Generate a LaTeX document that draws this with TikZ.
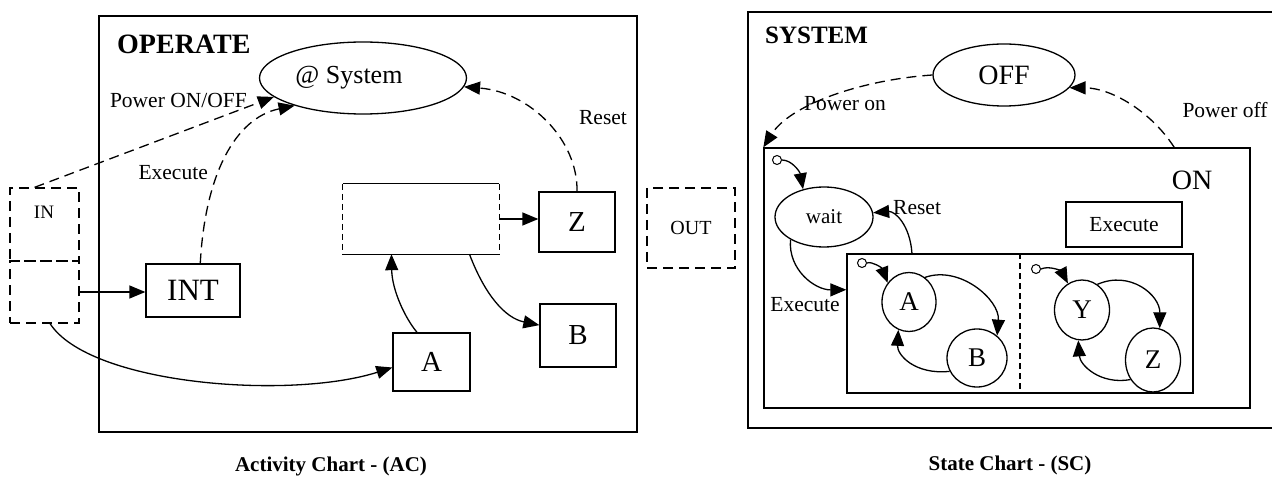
\documentclass[tikz,border=0pt]{standalone}
\usepackage{fontspec}
\setmainfont{Liberation Serif}
\usetikzlibrary{arrows.meta,shapes.geometric}
\newcommand\lblfont{\fontsize{21.5}{24}\selectfont}
\newcommand\letfont{\fontsize{29}{32}\selectfont}
\newcommand\ttlfont{\fontsize{28}{32}\selectfont\bfseries}
\newcommand\capfont{\fontsize{21}{24}\selectfont\bfseries}
\begin{document}
\begin{tikzpicture}[x=1pt,y=-1pt,
  box/.style={draw,line width=1.3pt,inner sep=0pt},
  dbox/.style={draw,line width=1.3pt,inner sep=0pt,dash pattern=on 10pt off 6pt},
  ell/.style={draw,ellipse,line width=1.3pt,inner sep=0pt},
  lbl/.style={inner sep=0pt,font=\lblfont},
  initc/.style={draw,circle,line width=1pt,minimum size=9pt,inner sep=0pt},
  arr/.style={line width=1.3pt,-{Triangle[length=16pt,width=13pt]}},
  dsh/.style={dash pattern=on 10pt off 6pt}]
\useasboundingbox (0,0) rectangle (1272,489);
\clip (0,0) rectangle (1272,489);

% ---------------- Activity chart ----------------
\node[box,line width=1.5pt,minimum width=538pt,minimum height=416pt] (operate) at (368,224) {};
\node[inner sep=0pt,font=\ttlfont,anchor=west] (optitle) at (117,44) {OPERATE};
\node[ell,minimum width=207pt,minimum height=72pt] (sys) at (363,78) {};
\node[inner sep=0pt,font=\fontsize{26}{30}\selectfont] (systxt) at (349,78) {@ System};

\node[dbox,minimum width=69pt,minimum height=73pt] (inTop) at (44.5,224.5) {};
\node[dbox,minimum width=69pt,minimum height=62pt] (inBot) at (44.5,292) {};
\node[inner sep=0pt,font=\fontsize{19}{22}\selectfont] (intxt) at (44,212) {IN};

\node[box,minimum width=94pt,minimum height=53pt,font=\fontsize{31}{34}\selectfont] (int) at (193,290.5) {INT};
\node[box,minimum width=77pt,minimum height=58pt,font=\letfont] (Abox) at (431.5,362) {A};
\node[box,minimum width=76pt,minimum height=63pt,font=\letfont] (Bbox) at (578,335.5) {B};
\node[box,minimum width=76pt,minimum height=60pt,font=\letfont] (Zbox) at (577,222) {Z};

\node[minimum width=156pt,minimum height=70pt,inner sep=0pt] (mid) at (421,219) {};
\draw[line width=1.3pt] (mid.north west) -- (mid.north east);
\draw[line width=1.3pt] (mid.south west) -- (mid.south east);
\draw[line width=1.3pt,dash pattern=on 6pt off 4pt] (mid.north west) -- (mid.south west);
\draw[line width=1.3pt,dash pattern=on 6pt off 4pt] (mid.north east) -- (mid.south east);

\draw[arr,dsh] (inTop.105) -- (sys.192);
\node[lbl,anchor=east] (lpow) at (247,100) {Power ON/OFF};
\draw[arr,dsh] (int.75) .. controls (205,175) and (235,118) .. (sys.202);
\node[lbl,anchor=east] (lexe) at (208,173) {Execute};
\draw[arr,dsh] (Zbox.north) .. controls (578,140) and (530,92) .. (sys.355);
\node[lbl] (lres) at (603,118) {Reset};

\draw[arr] (inBot.east) -- (inBot.east -| int.west);
\draw[arr] (inBot.-80) .. controls (90,385) and (290,400) .. (Abox.188);
\draw[arr] (Abox.116) .. controls (405,318) and (392,290) .. (mid.230);
\draw[arr] (mid.324.5) .. controls (485,295) and (505,318) .. (Bbox.165);
\draw[arr] (mid.east) -- (mid.east -| Zbox.west);

\node[inner sep=0pt,font=\capfont] (capac) at (331,466) {Activity Chart - (AC)};

% ---------------- OUT ----------------
\node[dbox,minimum width=88pt,minimum height=80pt,font=\fontsize{20}{23}\selectfont] (out) at (691,228) {OUT};

% ---------------- State chart ----------------
\node[box,line width=1.5pt,minimum width=542pt,minimum height=416pt] (system) at (1019,220) {};
\node[inner sep=0pt,font=\fontsize{25}{28}\selectfont\bfseries,anchor=west] (systitle) at (765,35) {SYSTEM};
\node[ell,minimum width=142pt,minimum height=62pt,font=\fontsize{28}{32}\selectfont] (off) at (1004,75) {OFF};
\node[box,minimum width=486pt,minimum height=260pt] (on) at (1007,278) {};
\node[inner sep=0pt,font=\fontsize{28}{32}\selectfont] (ontxt) at (1192,180) {ON};
\node[box,minimum width=116pt,minimum height=45pt,font=\lblfont] (exebox) at (1124,224.5) {Execute};

\draw[arr,dsh] (off.west) .. controls (860,80) and (790,105) .. (on.north west);
\node[lbl] (lpon) at (845,104) {Power on};
\draw[arr,dsh] (on.38.6) .. controls (1150,110) and (1110,88) .. (off.349);
\node[lbl] (lpoff) at (1225,110) {Power off};

\node[initc] (i0) at (777,160) {};
\node[ell,minimum width=98pt,minimum height=60pt,font=\fontsize{21}{24}\selectfont] (wait) at (824,217) {wait};
\draw[arr] (i0.east) .. controls (792,160) and (800,172) .. (wait.127);

\node[box,minimum width=346pt,minimum height=139pt] (par) at (1020,323.5) {};
\draw[line width=1.3pt,dash pattern=on 6pt off 4pt] (par.north) -- (par.south);

\draw[arr] (par.147.7) .. controls (910,225) and (895,211) .. (wait.5);
\node[lbl,anchor=west] (lreset) at (893,208) {Reset};
\draw[arr] (wait.214) .. controls (788,270) and (815,290) .. (par.169);
\node[lbl] (lexec) at (805,305) {Execute};

\node[initc] (i1) at (862,263) {};
\node[ell,minimum width=54pt,minimum height=59pt,font=\fontsize{27}{30}\selectfont] (sA) at (909,302) {A};
\node[ell,minimum width=60pt,minimum height=58pt,font=\fontsize{27}{30}\selectfont] (sB) at (977,358) {B};
\draw[arr] (i1.east) .. controls (872,261) and (882,268) .. (sA.138);
\draw[arr] (sA.57) .. controls (960,265) and (1000,300) .. (sB.48);
\draw[arr] (sB.206) .. controls (915,375) and (897,355) .. (sA.249);

\node[initc] (i2) at (1036,269) {};
\node[ell,minimum width=55pt,minimum height=60pt,font=\fontsize{27}{30}\selectfont] (sY) at (1082,310) {Y};
\node[ell,minimum width=55pt,minimum height=64pt,font=\fontsize{27}{30}\selectfont] (sZ) at (1153,360) {Z};
\draw[arr] (i2.east) .. controls (1050,265) and (1062,272) .. (sY.118);
\draw[arr] (sY.59) .. controls (1130,270) and (1160,295) .. (sZ.78);
\draw[arr] (sZ.221) .. controls (1100,385) and (1080,365) .. (sY.263);

\node[inner sep=0pt,font=\capfont] (capsc) at (1010,465) {State Chart - (SC)};
\end{tikzpicture}
\end{document}
